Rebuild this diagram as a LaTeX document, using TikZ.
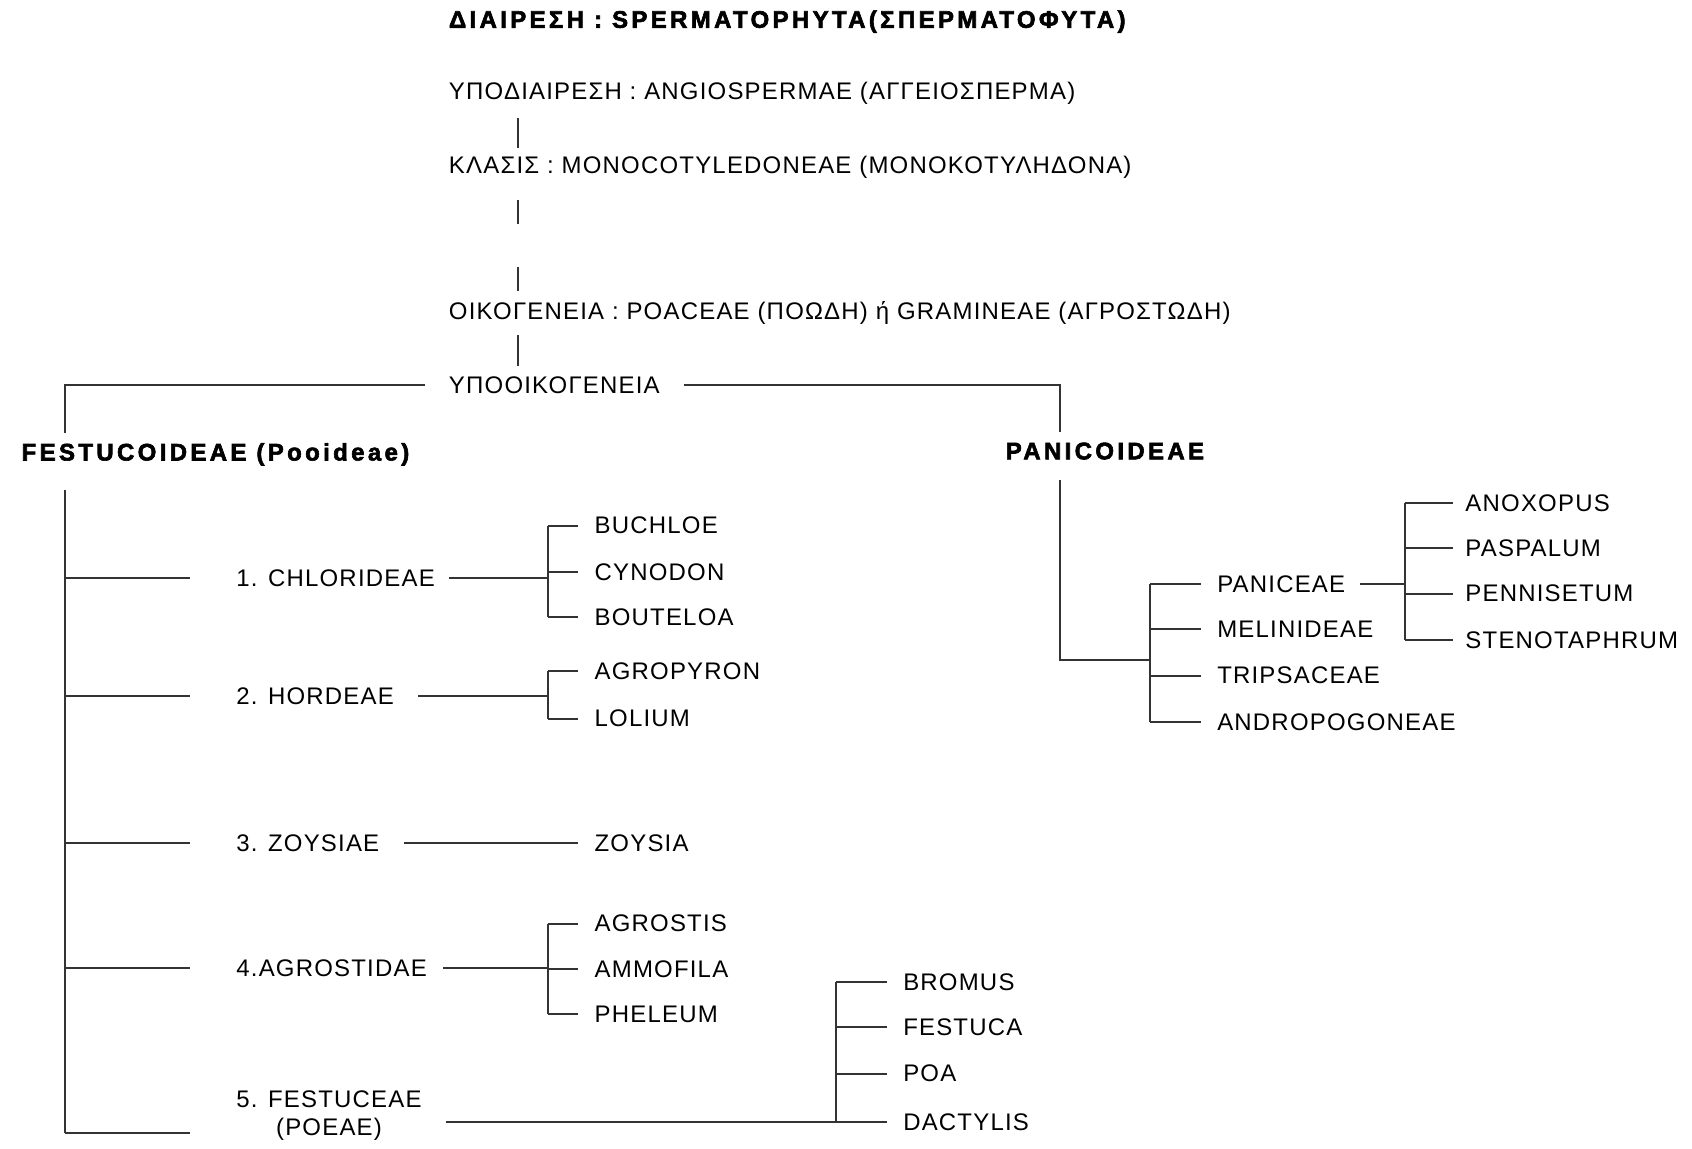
\documentclass[tikz,border=0pt]{standalone}
\usepackage{fontspec}
\setmainfont{Liberation Sans}[LetterSpace=5]
\newfontfamily\heavyfont{Liberation Sans Bold}[LetterSpace=14, FakeBold=2.5]
\usetikzlibrary{positioning}
\tikzset{
  taxon/.style={anchor=west, inner sep=2pt, font=\fontsize{12}{14}\selectfont},
  rank/.style={anchor=west, inner sep=2pt, font=\fontsize{12}{14}\selectfont\heavyfont},
  link/.style={line width=1pt, draw=black!80},
  tick/.style={link, shorten >=6pt},
}

\begin{document}
\begin{tikzpicture}[x=0.54pt, y=-0.54pt]
\useasboundingbox (0,0) rectangle (1568,1064);

% ranks at the top
\node[rank] (div) at (412,20) {ΔΙΑΙΡΕΣΗ : SPERMATOPHYTA(ΣΠΕΡΜΑΤΟΦΥΤΑ)};
\node[taxon] (subdiv) at (412,86) {ΥΠΟΔΙΑΙΡΕΣΗ : ANGIOSPERMAE (ΑΓΓΕΙΟΣΠΕΡΜΑ)};
\node[taxon] (cls) at (412,155) {ΚΛΑΣΙΣ : MONOCOTYLEDONEAE (ΜΟΝΟΚΟΤΥΛΗΔΟΝΑ)};
\node[taxon] (fam) at (412,290) {ΟΙΚΟΓΕΝΕΙΑ : POACEAE (ΠΟΩΔΗ) ή GRAMINEAE (ΑΓΡΟΣΤΩΔΗ)};
\node[taxon] (subfam) at (412,357) {ΥΠΟΟΙΚΟΓΕΝΕΙΑ};

\coordinate (stem) at (480,0);
\coordinate (fbus) at (60,0);
\coordinate (pbus) at (982,0);

\draw[link, shorten <=5pt, shorten >=2pt] (stem |- subdiv.south) -- (stem |- cls.north);
\draw[link] (stem |- cls.south) ++(0,16) -- ++(0,22);
\draw[link] (stem |- fam.north) ++(0,-6) -- ++(0,-22);
\draw[link, shorten <=3pt, shorten >=3pt] (stem |- fam.south) -- (stem |- subfam.north);

% subfamilies
\node[rank] (fest) at (16,421) {FESTUCOIDEAE (Pooideae)};
\node[rank] (pani) at (928,418) {PANICOIDEAE};

\draw[link, shorten <=10pt, shorten >=3pt] (subfam) -| (fbus |- fest.north);
\draw[link, shorten <=10pt, shorten >=3pt] (subfam) -| (pbus |- pani.north);

% tribes of Festucoideae
\node[taxon] (chl) at (215,536) {1. CHLORIDEAE};
\node[taxon] (hor) at (215,645) {2. HORDEAE};
\node[taxon] (zoy) at (215,781) {3. ZOYSIAE};
\node[taxon] (agr) at (215,897) {4.AGROSTIDAE};
\node[taxon, align=center] (fes) at (215,1034) {5. FESTUCEAE\\(POEAE)};
\coordinate (fesrow) at (0,1050);

\draw[link, shorten <=10pt] (fbus |- fest.south) -- (fbus |- fesrow);
\foreach \t in {chl,hor,zoy,agr}
  \draw[link, shorten >=21pt] (fbus |- \t) -- (\t);
\draw[link, shorten >=21pt] (fbus |- fesrow) -- (fesrow -| fes.west);

% genera
\node[taxon] (buch) at (547,487) {BUCHLOE};
\node[taxon] (cyno) at (547,530) {CYNODON};
\node[taxon] (bout) at (547,572) {BOUTELOA};
\node[taxon] (agro) at (547,622) {AGROPYRON};
\node[taxon] (loli) at (547,666) {LOLIUM};
\node[taxon] (zoys) at (547,781) {ZOYSIA};
\node[taxon] (agrs) at (547,856) {AGROSTIS};
\node[taxon] (ammo) at (547,898) {AMMOFILA};
\node[taxon] (phel) at (547,940) {PHELEUM};
\node[taxon] (brom) at (833,910) {BROMUS};
\node[taxon] (fstc) at (833,952) {FESTUCA};
\node[taxon] (poa) at (833,995) {POA};
\node[taxon] (dact) at (833,1040) {DACTYLIS};

\coordinate (cbus) at (508,0);
\coordinate (bbus) at (775,0);

\draw[link, shorten <=5pt] (chl) -- (cbus |- chl);
\draw[link] (cbus |- buch) -- (cbus |- bout);
\foreach \g in {buch,cyno,bout}
  \draw[tick] (cbus |- \g) -- (\g);

\draw[link, shorten <=10pt] (hor) -- (cbus |- hor);
\draw[link] (cbus |- agro) -- (cbus |- loli);
\foreach \g in {agro,loli}
  \draw[tick] (cbus |- \g) -- (\g);

\draw[tick, shorten <=10pt] (zoy) -- (zoys);

\draw[link, shorten <=6pt] (agr) -- (cbus |- agr);
\draw[link] (cbus |- agrs) -- (cbus |- phel);
\foreach \g in {agrs,ammo,phel}
  \draw[tick] (cbus |- \g) -- (\g);

\draw[link, shorten <=10pt] (fes.east |- dact) -- (bbus |- dact);
\draw[link] (bbus |- brom) -- (bbus |- dact);
\foreach \g in {brom,fstc,poa,dact}
  \draw[tick] (bbus |- \g) -- (\g);

% Panicoideae
\node[taxon] (pnce) at (1124,541) {PANICEAE};
\node[taxon] (meli) at (1124,583) {MELINIDEAE};
\node[taxon] (trip) at (1124,626) {TRIPSACEAE};
\node[taxon] (andr) at (1124,669) {ANDROPOGONEAE};

\node[taxon] (anox) at (1354,466) {ANOXOPUS};
\node[taxon] (pasp) at (1354,508) {PASPALUM};
\node[taxon] (penn) at (1354,550) {PENNISETUM};
\node[taxon] (sten) at (1354,593) {STENOTAPHRUM};

\coordinate (tbus) at (1066,0);
\coordinate (gbus) at (1302,0);
\coordinate (pjoin) at (0,612);

\draw[link, shorten <=8pt] (pbus |- pani.south) |- (tbus |- pjoin);
\draw[link] (tbus |- pnce) -- (tbus |- andr);
\foreach \g in {pnce,meli,trip,andr}
  \draw[tick] (tbus |- \g) -- (\g);

\draw[link, shorten <=5pt] (pnce) -- (gbus |- pnce);
\draw[link] (gbus |- anox) -- (gbus |- sten);
\foreach \g in {anox,pasp,penn,sten}
  \draw[link, shorten >=4pt] (gbus |- \g) -- (\g);
\end{tikzpicture}
\end{document}
